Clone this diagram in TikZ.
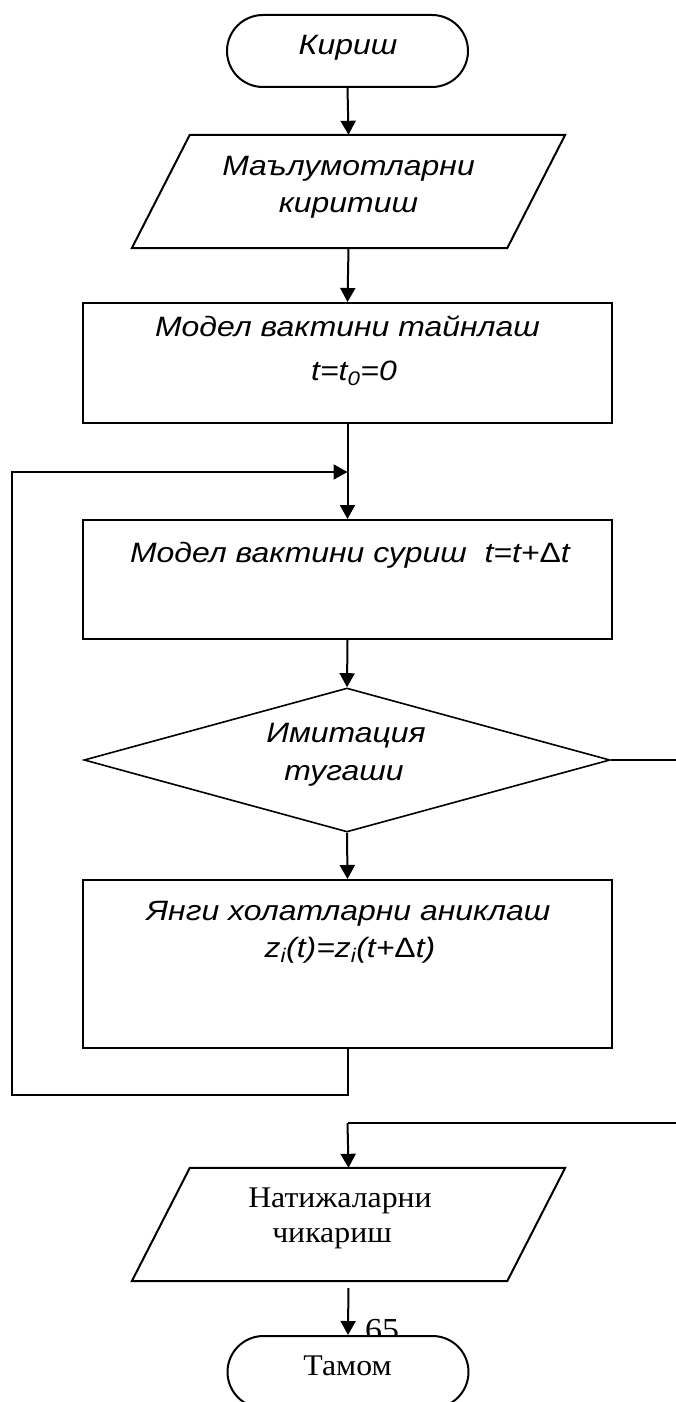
\documentclass[tikz,border=0pt]{standalone}
\usepackage{fontspec}
\setmainfont{Liberation Serif}[FakeStretch=1.06]
\newfontfamily\sansf{Liberation Sans}[FakeStretch=1.14]
\usetikzlibrary{arrows.meta,shapes.geometric,shapes.misc,calc}
\tikzset{
  ln/.style={line width=2pt},
  term/.style={ln, draw, fill=white, rounded rectangle, minimum width=241pt, minimum height=72pt, inner sep=0pt},
  procbox/.style={ln, draw, minimum width=529pt, inner sep=0pt},
  frame/.style={minimum width=433pt, minimum height=113pt, inner sep=0pt},
  dec/.style={line width=1.6pt, draw, diamond, minimum width=526pt, minimum height=144pt, inner sep=0pt},
  arr/.style={ln, -{Triangle[width=15pt,length=14pt]}},
  st/.style={font=\sansf\itshape\fontsize{28pt}{34pt}\selectfont, anchor=base, inner sep=0pt},
  rt/.style={font=\fontsize{30pt}{36pt}\selectfont, anchor=base, inner sep=0pt},
}
\begin{document}
\begin{tikzpicture}[x=1pt,y=-1pt]
\useasboundingbox (0,0) rectangle (676,1402);
% shapes
\node[term] (start) at (347.5,51) {};
\node[frame] (p1) at (348.5,191.5) {};
\draw[ln] ($(p1.north west)+(58,0)$) -- (p1.north east) -- ($(p1.south east)+(-58,0)$) -- (p1.south west) -- cycle;
\node[procbox, minimum height=120pt] (b1) at (347.5,363) {};
\coordinate (j1) at (347.5,472);
\node[procbox, minimum height=119pt] (b2) at (347.5,579.5) {};
\node[dec] (d) at (347,760) {};
\node[procbox, minimum height=168pt] (b3) at (347.5,964) {};
\node[frame] (p2) at (348.5,1224.5) {};
\draw[ln] ($(p2.north west)+(58,0)$) -- (p2.north east) -- ($(p2.south east)+(-58,0)$) -- (p2.south west) -- cycle;
\node[rt, font=\fontsize{32pt}{38pt}\selectfont, anchor=base west] (pg) at (365,1340) {65};
\node[term] (end) at (348,1372) {};
\coordinate (c1) at (347.5,1095);
\coordinate (c2) at (12,1095);
\coordinate (c3) at (12,472);
\coordinate (e1) at (679,760);
\coordinate (e2) at (679,1123);
\coordinate (e3) at (347.5,1123);
% texts
\node[st] (t0) at (348,55) {Кириш};
\node[st] (t1) at (348.5,175) {Маълумотларни};
\node[st] (t2) at (348.5,212) {киритиш};
\node[st] (t3) at (347.5,336) {Модел вактини тайнлаш};
\node[st] (t4) at (354,380) {t=t\textsubscript{0}=0};
\node[st] (t5) at (350,562) {Модел вактини суриш \ t=t+{\upshape Δ}t};
\node[st] (t6) at (346,742) {Имитация};
\node[st] (t7) at (344,780) {тугаши};
\node[st] (t8) at (348.5,920) {Янги холатларни аниклаш};
\node[st] (t9) at (350,957) {z\textsubscript{i}(t)=z\textsubscript{i}(t+{\upshape Δ}t)};
\node[rt] (t10) at (340,1207) {Натижаларни};
\node[rt] (t11) at (332,1242) {чикариш};
\node[rt] (t12) at (347.5,1375) {Тамом};
% connectors
\draw[arr] (start.south) -- (p1.north);
\draw[arr] (p1.south) -- (b1.north);
\draw[ln] (b1.south) -- (j1);
\draw[arr] (j1) -- (b2.north);
\draw[arr] (b2.south) -- (d.north);
\draw[arr] (d.south) -- (b3.north);
\draw[arr] (b3.south) -- (c1) -- (c2) -- (c3) -- (j1);
\draw[ln] (d.east) -- (e1) -- (e2) -- (e3);
\draw[arr] (e3) -- (p2.north);
\draw[arr, shorten <=7pt] (p2.south) -- (end.north);
\end{tikzpicture}
\end{document}
